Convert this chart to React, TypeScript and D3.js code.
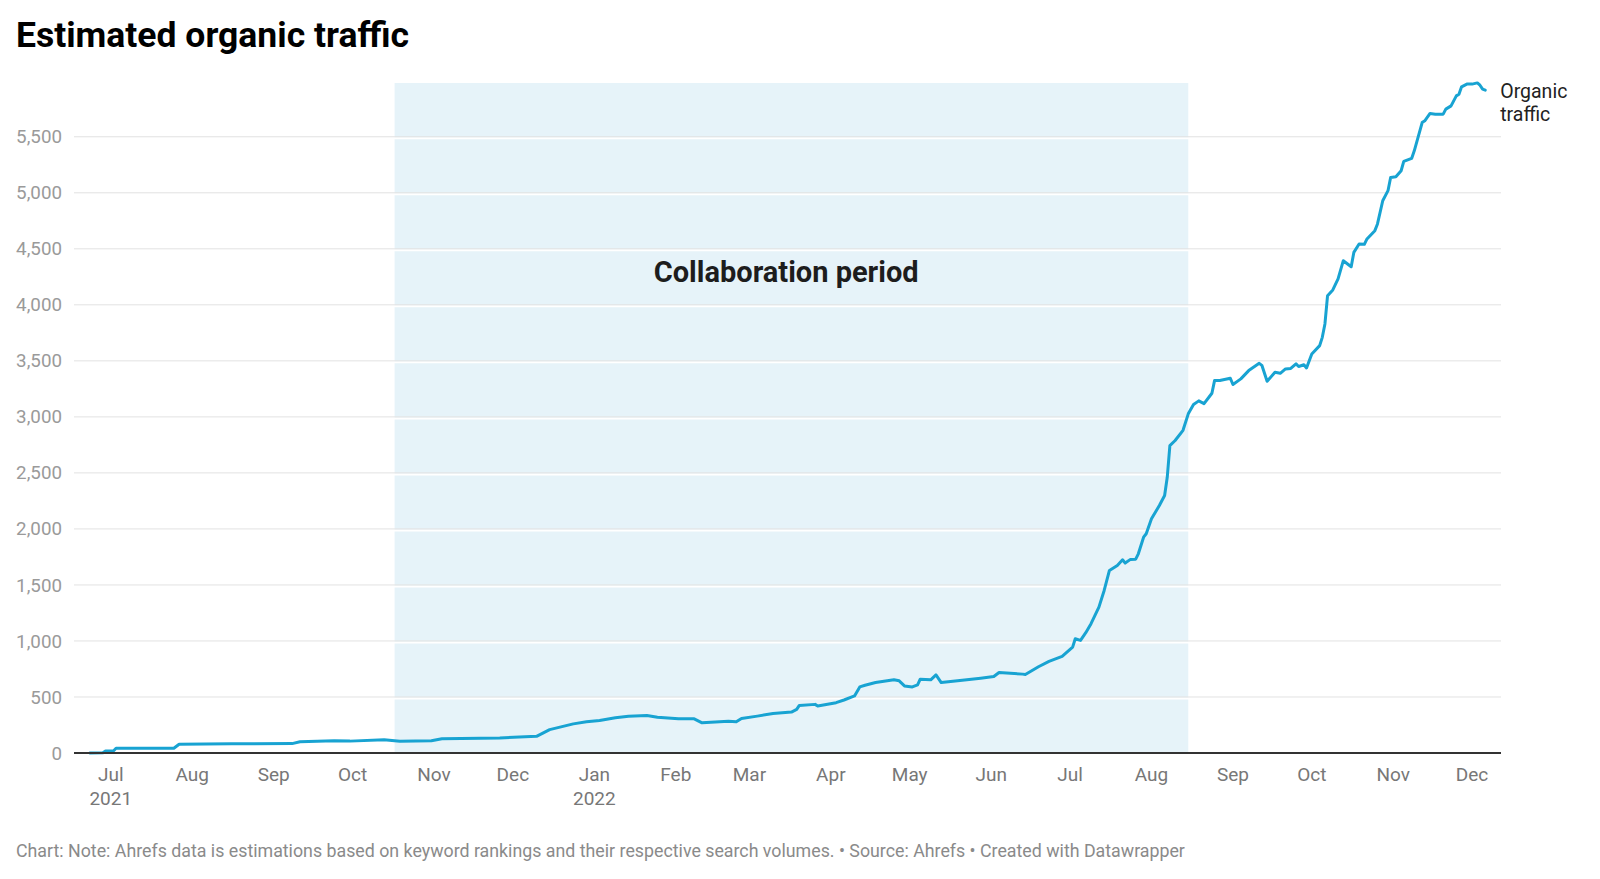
import React, { useRef, useEffect } from "react";
import * as d3 from "d3";

// values
const dates = [
  "2021-06-23", "2021-06-28", "2021-06-29", "2021-07-02", "2021-07-03", "2021-07-25", "2021-07-27",
  "2021-08-16", "2021-09-08", "2021-09-11", "2021-09-24", "2021-09-30", "2021-10-13", "2021-10-19",
  "2021-10-31", "2021-11-04", "2021-11-26", "2021-12-10", "2021-12-15", "2021-12-24", "2021-12-29",
  "2022-01-03", "2022-01-09", "2022-01-14", "2022-01-21", "2022-01-25", "2022-02-02", "2022-02-08",
  "2022-02-11", "2022-02-21", "2022-02-24", "2022-02-26", "2022-03-04", "2022-03-10", "2022-03-17",
  "2022-03-19", "2022-03-20", "2022-03-26", "2022-03-27", "2022-04-03", "2022-04-06", "2022-04-10",
  "2022-04-12", "2022-04-14", "2022-04-18", "2022-04-25", "2022-04-27", "2022-04-29", "2022-05-02",
  "2022-05-04", "2022-05-05", "2022-05-09", "2022-05-11", "2022-05-13", "2022-05-21", "2022-05-28",
  "2022-06-02", "2022-06-04", "2022-06-13", "2022-06-14", "2022-06-19", "2022-06-23", "2022-06-28",
  "2022-07-02", "2022-07-03", "2022-07-05", "2022-07-07", "2022-07-09", "2022-07-12", "2022-07-14",
  "2022-07-16", "2022-07-19", "2022-07-21", "2022-07-22", "2022-07-24", "2022-07-26", "2022-07-27",
  "2022-07-29", "2022-07-30", "2022-08-01", "2022-08-04", "2022-08-06", "2022-08-07", "2022-08-08",
  "2022-08-10", "2022-08-13", "2022-08-15", "2022-08-17", "2022-08-19", "2022-08-21", "2022-08-24",
  "2022-08-25", "2022-08-27", "2022-08-31", "2022-09-01", "2022-09-04", "2022-09-07", "2022-09-11",
  "2022-09-12", "2022-09-14", "2022-09-17", "2022-09-19", "2022-09-21", "2022-09-23", "2022-09-25",
  "2022-09-26", "2022-09-28", "2022-09-29", "2022-10-01", "2022-10-04", "2022-10-05", "2022-10-06",
  "2022-10-07", "2022-10-09", "2022-10-11", "2022-10-13", "2022-10-16", "2022-10-17", "2022-10-19",
  "2022-10-21", "2022-10-22", "2022-10-25", "2022-10-26", "2022-10-28", "2022-10-30", "2022-10-31",
  "2022-11-02", "2022-11-04", "2022-11-05", "2022-11-08", "2022-11-09", "2022-11-12", "2022-11-13",
  "2022-11-15", "2022-11-17", "2022-11-20", "2022-11-21", "2022-11-23", "2022-11-25", "2022-11-26",
  "2022-11-27", "2022-11-29", "2022-12-01", "2022-12-03", "2022-12-04", "2022-12-05", "2022-12-06",
];

const traffic = [
  0, 2, 18, 18, 42, 42, 78,
  82, 84, 100, 110, 106, 118, 105,
  110, 128, 134, 149, 209, 260, 278,
  290, 314, 329, 335, 320, 305, 305,
  269, 284, 278, 308, 329, 353, 365,
  389, 425, 434, 419, 449, 473, 509,
  590, 605, 629, 653, 644, 599, 590,
  608, 659, 653, 697, 629, 650, 668,
  683, 719, 704, 700, 770, 818, 862,
  945, 1020, 1005, 1074, 1154, 1302, 1451,
  1629, 1674, 1725, 1695, 1728, 1730, 1778,
  1926, 1957, 2090, 2209, 2298, 2461, 2744,
  2789, 2880, 3027, 3110, 3143, 3118, 3211,
  3324, 3324, 3345, 3289, 3339, 3413, 3478,
  3460, 3318, 3398, 3389, 3428, 3432, 3473,
  3450, 3465, 3437, 3562, 3636, 3710, 3829,
  4082, 4133, 4231, 4394, 4340, 4468, 4543,
  4540, 4588, 4662, 4722, 4929, 5019, 5137,
  5143, 5197, 5280, 5307, 5375, 5627, 5643,
  5708, 5702, 5702, 5747, 5776, 5865, 5880,
  5946, 5970, 5970, 5981, 5960, 5925, 5916,
];

const yTicks = [0, 500, 1000, 1500, 2000, 2500, 3000, 3500, 4000, 4500, 5000, 5500];
const yearLabels = [
  { date: "2021-07-01", label: "2021" },
  { date: "2022-01-01", label: "2022" },
];
const collaboration = { start: "2021-10-17", end: "2022-08-15", label: "Collaboration period", at: "2022-03-15", value: 4204 };
const seriesName = ["Organic", "traffic"];
const title = "Estimated organic traffic";
const footer =
  "Chart: Note: Ahrefs data is estimations based on keyword rankings and their respective search volumes. • Source: Ahrefs • Created with Datawrapper";

const width = 1600;
const height = 879;
const margin = { top: 83, right: 99, bottom: 126, left: 74 };

const parse = d3.timeParse("%Y-%m-%d");

const App: React.FC = () => {
  const svgRef = useRef<SVGSVGElement | null>(null);

  useEffect(() => {
    if (!svgRef.current) return;
    const svg = d3.select(svgRef.current);
    svg.selectAll("*").remove();

    const font = "Roboto, 'Noto Sans', sans-serif";
    const data = dates.map((d, i) => ({ date: parse(d)!, value: traffic[i] }));

    const x = d3
      .scaleTime()
      .domain([parse("2021-06-17")!, parse("2022-12-12")!])
      .range([margin.left, width - margin.right]);

    const y = d3
      .scaleLinear()
      .domain([0, 5980])
      .range([height - margin.bottom, margin.top]);

    // shaded collaboration band
    svg
      .append("rect")
      .attr("x", x(parse(collaboration.start)!))
      .attr("y", margin.top)
      .attr("width", x(parse(collaboration.end)!) - x(parse(collaboration.start)!))
      .attr("height", y(0) - margin.top)
      .attr("fill", "#e6f3f9");

    // grid lines
    const grid = svg.append("g");
    grid
      .selectAll(".grid-white")
      .data(yTicks.filter((t) => t > 0))
      .join("line")
      .attr("x1", margin.left)
      .attr("x2", width - margin.right)
      .attr("y1", (d) => y(d) + 1.5)
      .attr("y2", (d) => y(d) + 1.5)
      .attr("stroke", "#ffffff")
      .attr("stroke-width", 2);
    grid
      .selectAll(".grid")
      .data(yTicks.filter((t) => t > 0))
      .join("line")
      .attr("x1", margin.left)
      .attr("x2", width - margin.right)
      .attr("y1", (d) => y(d))
      .attr("y2", (d) => y(d))
      .attr("stroke", "#e2e2e2")
      .attr("stroke-width", 1);

    // y labels
    svg
      .append("g")
      .selectAll("text")
      .data(yTicks)
      .join("text")
      .attr("x", 62)
      .attr("y", (d) => y(d))
      .attr("dy", "0.35em")
      .attr("text-anchor", "end")
      .attr("font-family", font)
      .attr("font-size", 18.8)
      .attr("fill", "#9a9a9a")
      .text((d) => d3.format(",")(d));

    // collaboration label
    svg
      .append("text")
      .attr("x", x(parse(collaboration.at)!))
      .attr("y", y(collaboration.value))
      .attr("text-anchor", "middle")
      .attr("font-family", font)
      .attr("font-weight", 700)
      .attr("font-size", 29)
      .attr("fill", "#1d1d1d")
      .text(collaboration.label);

    // line
    const line = d3
      .line<{ date: Date; value: number }>()
      .x((d) => x(d.date))
      .y((d) => y(d.value));

    svg
      .append("path")
      .datum(data)
      .attr("d", line)
      .attr("fill", "none")
      .attr("stroke", "#18a3d2")
      .attr("stroke-width", 3)
      .attr("stroke-linejoin", "round")
      .attr("stroke-linecap", "round");

    // baseline
    svg
      .append("line")
      .attr("x1", margin.left)
      .attr("x2", width - margin.right)
      .attr("y1", y(0))
      .attr("y2", y(0))
      .attr("stroke", "#333333")
      .attr("stroke-width", 2);

    // x axis labels
    const months = d3.timeMonth.range(parse("2021-07-01")!, parse("2022-12-02")!);
    svg
      .append("g")
      .selectAll("text")
      .data(months)
      .join("text")
      .attr("x", (d) => x(d))
      .attr("y", 781)
      .attr("text-anchor", "middle")
      .attr("font-family", font)
      .attr("font-size", 19)
      .attr("fill", "#777777")
      .text((d) => d3.timeFormat("%b")(d));

    svg
      .append("g")
      .selectAll("text")
      .data(yearLabels)
      .join("text")
      .attr("x", (d) => x(parse(d.date)!))
      .attr("y", 805)
      .attr("text-anchor", "middle")
      .attr("font-family", font)
      .attr("font-size", 19)
      .attr("fill", "#777777")
      .text((d) => d.label);

    // series label at line end
    const last = data[data.length - 1];
    svg
      .append("g")
      .selectAll("text")
      .data(seriesName)
      .join("text")
      .attr("x", x(last.date) + 15)
      .attr("y", (d, i) => 98 + i * 23)
      .attr("font-family", font)
      .attr("font-size", 19.5)
      .attr("fill", "#222222")
      .text((d) => d);

    // title + footer
    svg
      .append("text")
      .attr("x", 16)
      .attr("y", 47)
      .attr("font-family", font)
      .attr("font-weight", 700)
      .attr("font-size", 35.5)
      .attr("fill", "#000000")
      .text(title);

    svg
      .append("text")
      .attr("x", 16)
      .attr("y", 857)
      .attr("font-family", font)
      .attr("font-size", 17.8)
      .attr("fill", "#8a8a8a")
      .text(footer);
  }, []);

  return (
    <div style={{ position: "absolute", left: 0, top: 0 }}>
      <svg ref={svgRef} width={width} height={height} style={{ background: "#ffffff", display: "block" }} />
    </div>
  );
};

export default App;
